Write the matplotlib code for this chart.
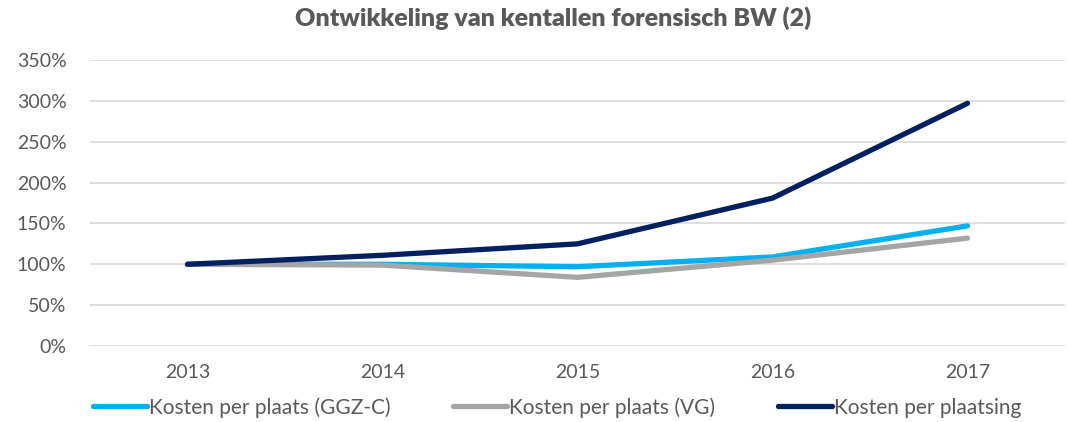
import matplotlib
matplotlib.use("Agg")
import matplotlib.pyplot as plt
from matplotlib.ticker import FuncFormatter

years = ["2013", "2014", "2015", "2016", "2017"]
ggz_c = [100, 100, 97, 109, 147]
vg = [100, 99, 84, 105, 132]
plaatsing = [100, 111, 125, 181, 297]
labels = ["Kosten per plaats (GGZ-C)", "Kosten per plaats (VG)", "Kosten per plaatsing"]
colors = ["#00B0F0", "#A5A5A5", "#002060"]

plt.rcParams['font.family'] = ['Lato', 'DejaVu Sans']

fig = plt.figure(figsize=(10.67, 4.22), dpi=100)
ax = fig.add_axes([90 / 1067, 76 / 422, 975 / 1067, 286 / 422])

x = range(len(years))
for series, lab, col in zip([ggz_c, vg, plaatsing], labels, colors):
    ax.plot(x, series, color=col, linewidth=3.8, label=lab, solid_capstyle='round')

ax.set_xlim(-0.5, len(years) - 0.5)
ax.set_ylim(0, 350)
ax.set_yticks(range(0, 351, 50))
ax.yaxis.set_major_formatter(FuncFormatter(lambda v, p: f"{int(v)}%"))
ax.set_xticks(list(x))
ax.set_xticklabels(years)
ax.grid(axis='y', color='#D9D9D9', linewidth=1.2)
ax.set_axisbelow(True)
for s in ax.spines.values():
    s.set_visible(False)
ax.tick_params(axis='both', length=0, labelsize=14, colors='#595959')
ax.tick_params(axis='x', pad=13)
ax.tick_params(axis='y', pad=17)

fig.suptitle("Ontwikkeling van kentallen forensisch BW (2)", x=0.518, y=0.985,
             fontsize=18, fontweight='heavy', color='#595959')

fig.legend(loc='center', bbox_to_anchor=(0.522, 0.035), ncol=3, frameon=False,
           fontsize=15, labelcolor='#595959', handlelength=2.6, handletextpad=0.1,
           columnspacing=3.0)

fig.savefig("out.png", dpi=100)
